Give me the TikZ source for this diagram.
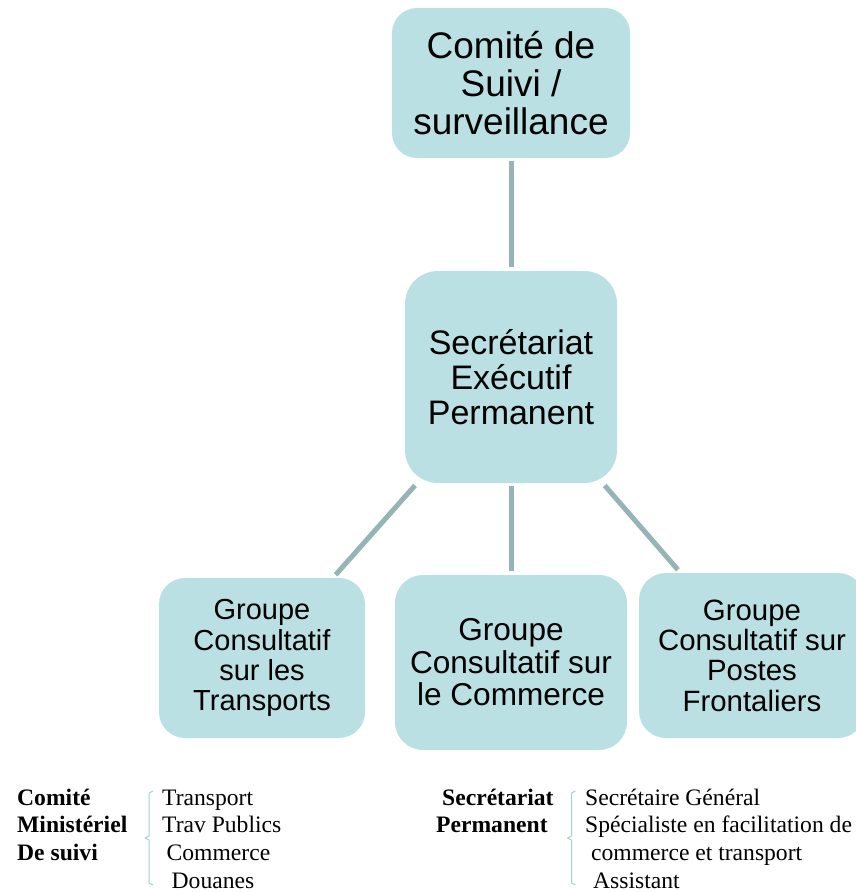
\documentclass[tikz,border=0pt]{standalone}
\usepackage{fontspec}
\setmainfont{Liberation Serif}
\newfontfamily\arialfont{Liberation Sans}
\definecolor{boxfill}{RGB}{187,224,227}
\definecolor{linkgray}{RGB}{150,180,182}
\definecolor{bracecol}{RGB}{160,210,214}
\begin{document}
\begin{tikzpicture}[x=1pt, y=-1pt, line join=round, line cap=butt,
	box/.style={fill=boxfill, rounded corners=#1, inner sep=0pt, align=center},
	link/.style={draw=linkgray, line width=5pt, shorten <=3pt, shorten >=4pt},
	brace/.style={draw=bracecol, line width=1pt},
	listtxt/.style={inner sep=0pt, anchor=base west, align=left, font=\fontsize{23.6}{27.8}\selectfont},
	listhead/.style={listtxt, font=\bfseries\fontsize{23.6}{27.8}\selectfont}]
	\useasboundingbox (0,0) rectangle (856,892);
	\clip (0,0) rectangle (856,892);
	% boites
	\node[box=25pt, minimum width=238pt, minimum height=150pt, font=\arialfont\fontsize{37}{38.3}\selectfont]
		(cds) at (511,83) {Comité de\\Suivi /\\surveillance};
	\node[box=33pt, minimum width=212pt, minimum height=212pt, font=\arialfont\fontsize{34}{35.2}\selectfont]
		(sec) at (511,377) {Secrétariat\\Exécutif\\Permanent};
	\node[box=26pt, minimum width=206pt, minimum height=160pt, font=\arialfont\fontsize{29}{30.2}\selectfont]
		(gtr) at (262,658) {Groupe\\Consultatif\\sur les\\Transports};
	\node[box=28pt, minimum width=232pt, minimum height=175pt, font=\arialfont\fontsize{31.6}{32.6}\selectfont]
		(gcm) at (511,662.5) {Groupe\\Consultatif sur\\le Commerce};
	\node[box=27pt, minimum width=226pt, minimum height=165pt, font=\arialfont\fontsize{29.4}{30.4}\selectfont]
		(gpf) at (752,655.5) {Groupe\\Consultatif sur\\Postes\\Frontaliers};
	% liens
	\draw[link] (cds) -- (sec);
	\foreach \g in {gtr,gcm,gpf} \draw[link] (sec) -- (\g);
	% legendes (base = derniere ligne)
	\node[listhead] (cms) at (17,860.6) {Comité\\Ministériel\\De suivi};
	\node[listtxt] (cmsl) at (162,888.4) {Transport\\Trav Publics\\\hspace{4.5pt}Commerce\\\hspace{9.5pt}Douanes};
	\node[listhead] (spm) at (436,832.8) {\hspace{6pt}Secrétariat\\Permanent};
	\node[listtxt] (spml) at (585,888.4) {Secrétaire Général\\Spécialiste en facilitation de\\\hspace{6pt}commerce et transport\\\hspace{8pt}Assistant};
	\foreach \bx in {149,571.5}
		\draw[brace] ({\bx+4},791) -- (\bx,793) -- (\bx,836) -- ({\bx-4},838) -- (\bx,840) -- (\bx,883) -- ({\bx+4},885);
\end{tikzpicture}
\end{document}
